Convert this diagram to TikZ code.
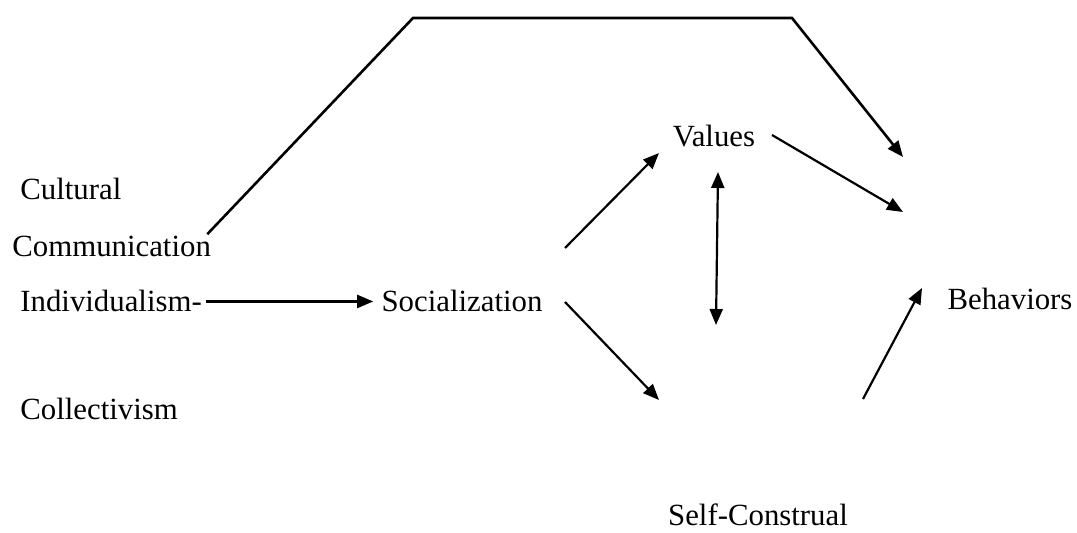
\documentclass[tikz,border=0pt]{standalone}
\usepackage{fontspec}
\setmainfont{Liberation Serif}
\usetikzlibrary{arrows.meta}
\tikzset{
    label/.style={font=\fontsize{15.4}{18}\selectfont, inner sep=0pt},
    tip/.style={Triangle[length=8pt,width=6.5pt]},
    flow/.style={-{Triangle[length=8pt,width=6.5pt]}, line width=1.1pt},
    twoway/.style={{Triangle[length=8pt,width=6.5pt]}-{Triangle[length=8pt,width=6.5pt]}, line width=1.1pt},
    route/.style={line width=1.3pt, line join=miter}
}

\begin{document}
\begin{tikzpicture}[x=0.5pt, y=-0.5pt]
  \useasboundingbox (0,0) rectangle (1077,533);

  % Left column
  \node[label, anchor=base west] (cult) at (20,200) {Cultural};
  \node[label, anchor=base west] (com) at (12,257) {Communication};
  \node[label, anchor=base west] (ind) at (20,312) {Individualism-};
  \node[label, anchor=base west] (coll) at (20,420) {Collectivism};

  % Middle and right
  \node[label, anchor=base] (soc) at (462,312) {Socialization};
  \node[label, anchor=base] (val) at (714,147) {Values};
  \node[label, anchor=base] (self) at (758,526) {Self-Construal};
  \node[label, anchor=base] (beh) at (1010,310) {Behaviors};

  % Arrow ends
  \coordinate (topL) at (413,18);
  \coordinate (topR) at (792,18);
  \coordinate (behTop) at (903,157);
  \coordinate (socUp) at (565,248);
  \coordinate (valIn) at (659,153);
  \coordinate (valOut) at (772,135);
  \coordinate (behMid) at (903,212);
  \coordinate (dTop) at (718,172);
  \coordinate (dBot) at (716,325);
  \coordinate (socDown) at (565,302);
  \coordinate (selfIn) at (659,400);
  \coordinate (selfOut) at (863,399);
  \coordinate (behLow) at (922,288);

  % Arrows
  \draw[route, -{Triangle[length=8pt,width=6.5pt]}] ([xshift=-2pt,yshift=1pt]com.north east) -- (topL) -- (topR) -- (behTop);
  \draw[flow, shorten <=2pt, shorten >=4pt] (ind.east) -- (soc.west);
  \draw[flow] (socUp) -- (valIn);
  \draw[flow] (valOut) -- (behMid);
  \draw[twoway] (dTop) -- (dBot);
  \draw[flow] (socDown) -- (selfIn);
  \draw[flow] (selfOut) -- (behLow);
\end{tikzpicture}
\end{document}
